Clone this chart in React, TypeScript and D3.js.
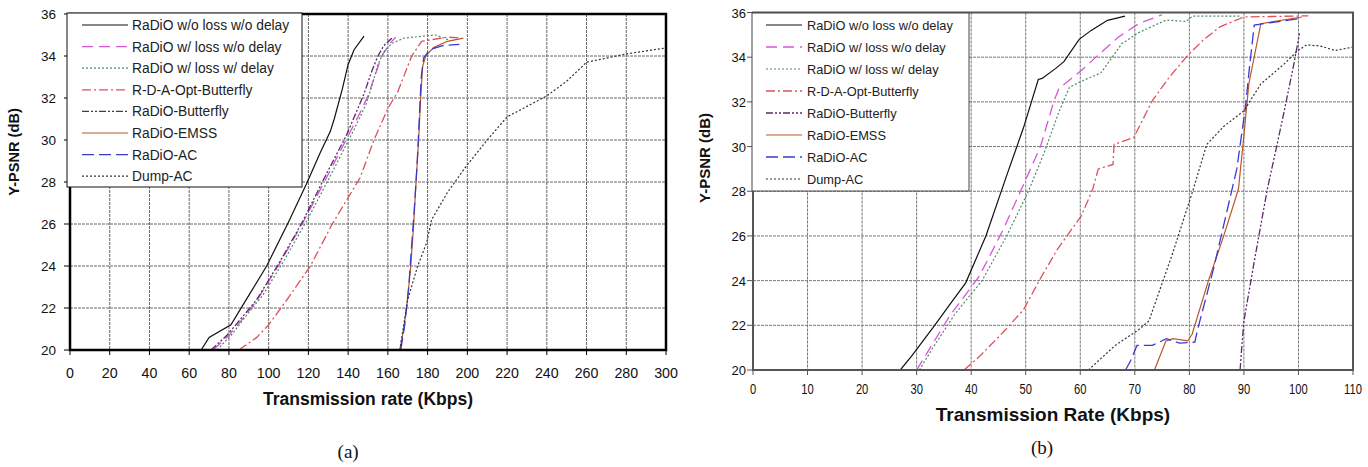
import React, { useEffect, useRef } from 'react';
import * as d3 from 'd3';

const legendNames = [
  'RaDiO w/o loss w/o delay',
  'RaDiO w/ loss w/o delay',
  'RaDiO w/ loss w/ delay',
  'R-D-A-Opt-Butterfly',
  'RaDiO-Butterfly',
  'RaDiO-EMSS',
  'RaDiO-AC',
  'Dump-AC',
];

const yTicks = [20, 22, 24, 26, 28, 30, 32, 34, 36];
const xTicksA = [0, 20, 40, 60, 80, 100, 120, 140, 160, 180, 200, 220, 240, 260, 280, 300];
const xTicksB = [0, 10, 20, 30, 40, 50, 60, 70, 80, 90, 100, 110];

// panel (a): [Kbps, dB]
const aNoLossNoDelay = [[66, 20], [70, 20.6], [81, 21.2], [90, 22.6], [99, 24], [110, 26.1], [119, 27.9], [126, 29.4], [131, 30.4], [133, 31], [137, 32.4], [140, 33.6], [143, 34.3], [148, 34.95]];
const aLossNoDelay = [[72, 20], [80, 20.7], [88, 21.6], [95, 22.5], [106, 24.2], [118, 26.2], [128, 28], [134, 29.1], [140, 30.2], [146, 31.3], [150, 32.1], [154, 33.2], [157, 34], [161, 34.6], [164, 34.9]];
const aLossDelay = [[74, 20], [82, 20.8], [90, 21.8], [97, 22.6], [108, 24.3], [120, 26.3], [130, 28.1], [137, 29.4], [143, 30.5], [149, 31.7], [152, 32.6], [155, 33.6], [158, 34.2], [162, 34.6], [168, 34.85], [178, 34.95], [184, 35], [191, 34.75]];
const aRDA = [[85, 20], [94, 20.6], [100, 21.2], [110, 22.5], [121, 24], [132, 26], [146, 28.2], [153, 30], [160, 31.5], [165, 32.3], [172, 34], [177, 34.7], [190, 34.9], [197, 34.85]];
const aButterfly = [[71, 20], [79, 20.7], [87, 21.6], [94, 22.4], [105, 24.1], [117, 26.1], [127, 28], [133, 29.1], [139, 30.2], [144, 31.3], [148, 32.2], [152, 33.3], [155, 34], [158, 34.5], [162, 34.85]];
const aEMSS = [[166, 20], [168, 21], [170, 22.5], [171.5, 24], [173, 26], [174.5, 28.5], [175.5, 30], [176.5, 32], [177.5, 33.5], [179, 34], [183, 34.4], [190, 34.7], [198, 34.85]];
const aAC = [[166.5, 20], [168.5, 21.2], [170.5, 23], [172, 25], [173.5, 27], [174.8, 29], [175.8, 31], [176.8, 33], [178, 33.9], [181, 34.3], [188, 34.5], [196, 34.55]];
const aDump = [[166, 20], [170, 22.4], [175, 24], [179.5, 25.1], [182, 26.2], [190, 27.5], [199, 28.7], [210, 30], [220, 31.1], [240, 32.1], [250, 32.8], [260, 33.7], [280, 34.1], [299, 34.37]];

// panel (b): [Kbps, dB]
const bNoLossNoDelay = [[27, 20], [29, 20.6], [33, 21.9], [36, 22.9], [39, 23.9], [42.7, 26], [46.5, 28.7], [49.6, 30.85], [52.3, 33], [53, 33.05], [55.5, 33.5], [57, 33.8], [59.8, 34.8], [62, 35.2], [65, 35.65], [68.2, 35.84]];
const bLossNoDelay = [[30, 20], [32, 20.8], [36, 22.4], [41.5, 24.2], [45.9, 26.3], [49.6, 28.3], [52.7, 30], [55.2, 32.06], [56.1, 32.6], [60.2, 33.4], [63.3, 34.1], [67, 34.9], [70.7, 35.5], [75, 35.9]];
const bLossDelay = [[30.5, 20], [33, 21], [37, 22.5], [42, 24], [46.5, 26], [50.5, 28], [53.5, 29.8], [56, 31.5], [58, 32.65], [60, 32.9], [63.8, 33.3], [67.6, 34.6], [70.7, 35.1], [75.7, 35.66], [79.4, 35.6], [80.6, 35.84], [89.5, 35.84]];
const bRDA = [[38.7, 20], [41.5, 20.6], [45.9, 21.7], [49.6, 22.7], [52.7, 24.1], [55.8, 25.4], [60.2, 26.9], [62.3, 28.1], [63.3, 29], [66, 29.2], [66.2, 30.1], [69.8, 30.4], [73.2, 32.05], [76.3, 33.1], [79.7, 34.08], [82.5, 34.76], [85.6, 35.36], [90, 35.8], [101.8, 35.85]];
const bButterfly = [[89.3, 20], [89.6, 21], [90, 22.2], [92, 25], [94.3, 28.1], [96, 30], [97.4, 31.6], [99, 33.5], [100.2, 35.06]];
const bEMSS = [[73.6, 20], [75.7, 21.3], [77, 21.4], [79.7, 21.3], [80.5, 21.6], [83.5, 24], [86.3, 26], [89, 28.1], [90, 30.5], [90.9, 32.8], [93.1, 35.5], [100.6, 35.8]];
const bAC = [[68.3, 20], [69.2, 20.4], [70.4, 21.1], [73.2, 21.1], [75.8, 21.4], [78.2, 21.2], [81, 21.25], [81.5, 21.8], [84.4, 24.5], [88.7, 29], [90.3, 31.8], [91, 33.5], [91.9, 35.44], [100.6, 35.74]];
const bDump = [[61.5, 20], [66.4, 21.1], [70.7, 21.8], [72.6, 22.2], [76.9, 25.2], [80.6, 28], [83.2, 30.1], [86.3, 30.9], [90, 31.6], [93.1, 32.8], [97.4, 33.7], [99.9, 34.3], [101.5, 34.55], [104, 34.5], [106.7, 34.3], [110, 34.45]];

const lineStyles = [
  { color: '#111', dash: null, width: 1.2 },
  { color: '#d655d6', dash: '11,6', width: 1.3 },
  { color: '#4f8a6a', dash: '2,2', width: 1.2 },
  { color: '#e05058', dash: '9,3,2,3', width: 1.3 },
  { color: '#5a2a6a', dash: '7,2,2,2,2,2', width: 1.3 },
  { color: '#b8582a', dash: null, width: 1.2 },
  { color: '#3a3ad0', dash: '12,5', width: 1.3 },
  { color: '#333', dash: '2,2', width: 1.2 },
];

const FONT = '"Liberation Sans", Arial, sans-serif';

const panels = [
  {
    plot: { left: 70, right: 666, top: 14, bottom: 350 },
    xDomain: [0, 300],
    xTicks: xTicksA,
    series: [aNoLossNoDelay, aLossNoDelay, aLossDelay, aRDA, aButterfly, aEMSS, aAC, aDump],
    border: { color: '#000', width: 2.5 },
    grid: '#666',
    xTickFont: 15, xTickScale: 0.95, xTickY: 378,
    yTickFont: 13.5, yTickX: 56,
    xTitle: 'Transmission rate (Kbps)', xTitleCenter: 150, xTitleFont: 17.5, xTitleY: 405,
    yTitleX: 14, yTitleY: 152, yTitleFont: 14.6,
    caption: '(a)', captionCenter: 140, captionY: 458,
    legend: { x: 67, y: 13, w: 235, h: 174, row0: 25, step: 21.6, l0: 82, l1: 128, tx: 132, font: 13.8, stroke: '#111' },
  },
  {
    plot: { left: 753, right: 1353, top: 12.5, bottom: 370 },
    xDomain: [0, 110],
    xTicks: xTicksB,
    series: [bNoLossNoDelay, bLossNoDelay, bLossDelay, bRDA, bButterfly, bEMSS, bAC, bDump],
    border: { color: '#555', width: 2 },
    grid: '#777',
    xTickFont: 14, xTickScale: 0.8, xTickY: 394,
    yTickFont: 13, yTickX: 746,
    xTitle: 'Transmission Rate (Kbps)', xTitleCenter: 55, xTitleFont: 19, xTitleY: 421,
    yTitleX: 705, yTitleY: 158, yTitleFont: 15,
    caption: '(b)', captionCenter: 53, captionY: 454,
    legend: { x: 752, y: 13, w: 217, h: 178, row0: 25, step: 22, l0: 766, l1: 802, tx: 807, font: 12.8, stroke: '#444' },
  },
];

function drawPanel(svg, cfg, idx) {
  const { plot } = cfg;
  const x = d3.scaleLinear().domain(cfg.xDomain).range([plot.left, plot.right]);
  const y = d3.scaleLinear().domain([20, 36]).range([plot.bottom, plot.top]);
  const g = svg.append('g');

  // grid
  g.selectAll('line.vg')
    .data(cfg.xTicks.slice(1, -1))
    .enter()
    .append('line')
    .attr('x1', (d) => x(d))
    .attr('x2', (d) => x(d))
    .attr('y1', plot.top)
    .attr('y2', plot.bottom)
    .attr('stroke', cfg.grid)
    .attr('stroke-width', 1)
    .attr('stroke-dasharray', '3,1');
  g.selectAll('line.hg')
    .data(yTicks.slice(1, -1))
    .enter()
    .append('line')
    .attr('x1', plot.left)
    .attr('x2', plot.right)
    .attr('y1', (d) => y(d))
    .attr('y2', (d) => y(d))
    .attr('stroke', cfg.grid)
    .attr('stroke-width', 1)
    .attr('stroke-dasharray', '3,1');

  // ticks
  g.selectAll('line.xt')
    .data(cfg.xTicks)
    .enter()
    .append('line')
    .attr('x1', (d) => x(d))
    .attr('x2', (d) => x(d))
    .attr('y1', plot.bottom)
    .attr('y2', plot.bottom + 5)
    .attr('stroke', cfg.border.color);
  g.selectAll('line.yt')
    .data(yTicks)
    .enter()
    .append('line')
    .attr('x1', plot.left - 6)
    .attr('x2', plot.left)
    .attr('y1', (d) => y(d))
    .attr('y2', (d) => y(d))
    .attr('stroke', cfg.border.color);

  // tick labels
  g.selectAll('text.xl')
    .data(cfg.xTicks)
    .enter()
    .append('text')
    .attr('transform', (d) => `translate(${x(d)},${cfg.xTickY}) scale(${cfg.xTickScale},1)`)
    .attr('text-anchor', 'middle')
    .attr('font-family', FONT)
    .attr('font-size', cfg.xTickFont)
    .attr('fill', '#111')
    .text((d) => d);
  g.selectAll('text.yl')
    .data(yTicks)
    .enter()
    .append('text')
    .attr('x', cfg.yTickX)
    .attr('y', (d) => y(d) + 5)
    .attr('text-anchor', 'end')
    .attr('font-family', FONT)
    .attr('font-size', cfg.yTickFont)
    .attr('fill', '#111')
    .text((d) => d);

  // curves
  const clipId = `clip${idx}`;
  svg.append('clipPath').attr('id', clipId)
    .append('rect')
    .attr('x', plot.left)
    .attr('y', plot.top - 2)
    .attr('width', plot.right - plot.left)
    .attr('height', plot.bottom - plot.top + 2);
  const line = d3.line().x((d) => x(d[0])).y((d) => y(d[1]));
  const curves = g.append('g').attr('clip-path', `url(#${clipId})`);
  cfg.series.forEach((s, i) => {
    const st = lineStyles[i];
    curves.append('path')
      .attr('d', line(s))
      .attr('fill', 'none')
      .attr('stroke', st.color)
      .attr('stroke-width', st.width)
      .attr('stroke-dasharray', st.dash);
  });

  // frame
  g.append('rect')
    .attr('x', plot.left)
    .attr('y', plot.top)
    .attr('width', plot.right - plot.left)
    .attr('height', plot.bottom - plot.top)
    .attr('fill', 'none')
    .attr('stroke', cfg.border.color)
    .attr('stroke-width', cfg.border.width);

  // legend
  const lg = cfg.legend;
  g.append('rect')
    .attr('x', lg.x)
    .attr('y', lg.y)
    .attr('width', lg.w)
    .attr('height', lg.h)
    .attr('fill', '#fff')
    .attr('stroke', lg.stroke)
    .attr('stroke-width', 1);
  legendNames.forEach((name, i) => {
    const st = lineStyles[i];
    const ly = lg.row0 + i * lg.step;
    g.append('line')
      .attr('x1', lg.l0)
      .attr('x2', lg.l1)
      .attr('y1', ly)
      .attr('y2', ly)
      .attr('stroke', st.color)
      .attr('stroke-width', st.width)
      .attr('stroke-dasharray', st.dash);
    g.append('text')
      .attr('x', lg.tx)
      .attr('y', ly + 5)
      .attr('font-family', FONT)
      .attr('font-size', lg.font)
      .attr('fill', '#222')
      .text(name);
  });

  // axis titles
  g.append('text')
    .attr('x', x(cfg.xTitleCenter))
    .attr('y', cfg.xTitleY)
    .attr('text-anchor', 'middle')
    .attr('font-family', FONT)
    .attr('font-weight', 'bold')
    .attr('font-size', cfg.xTitleFont)
    .attr('fill', '#111')
    .text(cfg.xTitle);
  g.append('text')
    .attr('transform', `translate(${cfg.yTitleX + 5},${cfg.yTitleY}) rotate(-90)`)
    .attr('text-anchor', 'middle')
    .attr('font-family', FONT)
    .attr('font-weight', 'bold')
    .attr('font-size', cfg.yTitleFont)
    .attr('fill', '#111')
    .text('Y-PSNR (dB)');
  g.append('text')
    .attr('x', x(cfg.captionCenter))
    .attr('y', cfg.captionY)
    .attr('text-anchor', 'middle')
    .attr('font-family', '"Liberation Serif", "Times New Roman", serif')
    .attr('font-size', 19)
    .attr('fill', '#111')
    .text(cfg.caption);
}

export default function App() {
  const ref = useRef(null);

  useEffect(() => {
    const svg = d3.select(ref.current);
    svg.selectAll('*').remove();
    panels.forEach((p, i) => drawPanel(svg, p, i));
  }, []);

  return (
    <svg
      ref={ref}
      width={1368}
      height={467}
      style={{ position: 'absolute', left: 0, top: 0, background: '#fff' }}
    />
  );
}
